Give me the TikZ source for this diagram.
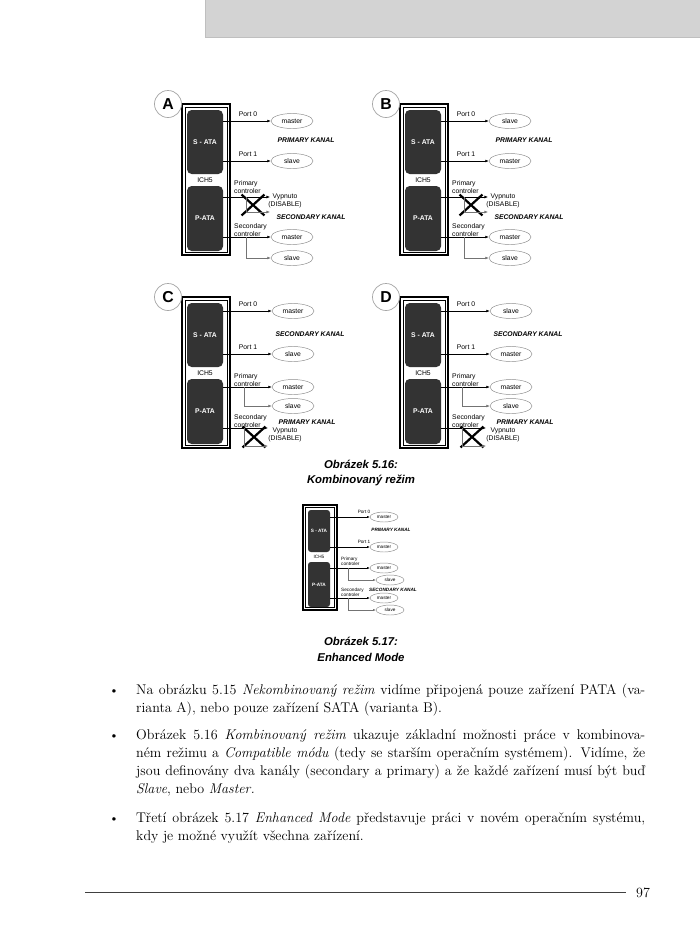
\documentclass[tikz,border=0pt]{standalone}
\usepackage{fontspec}
\setsansfont{Liberation Sans}
\usetikzlibrary{arrows.meta, positioning, shapes.geometric, shapes.misc}
\definecolor{chipgray}{HTML}{333333}
\definecolor{headgray}{HTML}{D3D3D3}

\begin{document}
\begin{tikzpicture}[
        x=0.03cm, y=-0.03cm,
        ich/.style={rectangle, draw, line width=1.4pt, minimum width=1.44cm,
                   minimum height=4.53cm, inner sep=0},
        chip/.style={rectangle, rounded corners=4pt, fill=chipgray, text=white,
                   minimum width=1.08cm, minimum height=1.92cm, inner sep=0,
                   font=\sffamily\bfseries\fontsize{5.8}{7}\selectfont},
        lbl/.style={inner sep=0, font=\sffamily\fontsize{5.8}{7}\selectfont},
        kanal/.style={inner sep=0, font=\sffamily\bfseries\itshape\fontsize{5.8}{7}\selectfont},
        dev/.style={ellipse, draw=black!45, fill=white, minimum width=1.26cm,
                   minimum height=0.45cm, inner sep=0,
                   font=\sffamily\fontsize{5.8}{7}\selectfont},
        cross/.style={cross out, draw, line width=1.9pt, minimum width=0.62cm,
                   minimum height=0.56cm, inner sep=0},
        tag/.style={circle, draw=black!35, fill=white, line width=0.6pt,
                   minimum size=0.81cm, inner sep=0,
                   font=\sffamily\bfseries\fontsize{13.5}{13.5}\selectfont},
        conn/.style={-{Latex[length=3pt, width=2.4pt]}, line width=0.45pt},
        branch/.style={conn, draw=black!55},
        schip/.style={chip, rounded corners=2.5pt, minimum width=0.66cm,
                   font=\sffamily\bfseries\fontsize{4}{5}\selectfont},
        slbl/.style={inner sep=0, font=\sffamily\fontsize{4}{4.8}\selectfont},
        skanal/.style={inner sep=0, font=\sffamily\bfseries\itshape\fontsize{4}{5}\selectfont},
        sdev/.style={dev, minimum width=0.84cm, minimum height=0.3cm,
                   font=\sffamily\fontsize{4}{5}\selectfont},
        sconn/.style={-{Latex[length=2.2pt, width=1.8pt]}, line width=0.35pt},
        sbranch/.style={sconn, draw=black!55},
        capt/.style={align=center, inner sep=0,
                   font=\sffamily\bfseries\itshape\fontsize{9.7}{13.6}\selectfont},
        body/.style={inner sep=0, anchor=base west, font=\fontsize{12}{15.3}\selectfont},
        dot/.style={inner sep=0, anchor=base, font=\fontsize{11}{15.3}\selectfont}
    ]
    \useasboundingbox (0,0) rectangle (700,943);
    \fill[white] (0,0) rectangle (700,943);

    % page head
    \fill[headgray] (205,0) rectangle (700,37);
    \draw[black!25, line width=0.8pt] (205,0) |- (700,37);

    % ICH5 frames of A-D
    \foreach \p/\bx/\by in {A/182/104, B/400/104, C/182/297, D/400/297} {
      \begin{scope}[shift={(\bx,\by)}]
        \node[ich] (\p-ich) at (24,75.5) {};
        \draw[line width=0.4pt] (3,3) rectangle (45,148);
        \node[chip] (\p-sata) at (23,38) {S - ATA};
        \node[chip, minimum height=1.95cm] (\p-pata) at (23,114.5) {P-ATA};
        \node[lbl] (\p-ich5) at (23,76) {ICH5};
        \node[tag] (\p-tag) at (-14,0) {\p};
      \end{scope}
    }

    % A, B: primary kanal on S-ATA
    \foreach \p/\bx/\by/\da/\db in {A/182/104/master/slave, B/400/104/slave/master} {
      \begin{scope}[shift={(\bx,\by)}]
        \node[dev] (\p-d1) at (110,17) {\da};
        \node[dev] (\p-d2) at (110,57) {\db};
        \node[lbl] (\p-port0) at (66,10) {Port 0};
        \node[lbl] (\p-port1) at (66,50) {Port 1};
        \node[kanal] (\p-k1) at (124,36) {PRIMARY KANAL};
        \node[lbl, align=left, anchor=west] (\p-pc) at (52,83) {Primary\\controler};
        \coordinate (\p-off1) at (88,93);
        \coordinate (\p-off2) at (88,108);
        \coordinate (\p-j1) at (64,93);
        \node[cross] (\p-x) at (71,101) {};
        \node[lbl, align=center] (\p-off) at (103,97) {Vypnuto\\(DISABLE)};
        \node[kanal] (\p-k2) at (129,113) {SECONDARY KANAL};
        \node[lbl, align=left, anchor=west] (\p-sc) at (52,126) {Secondary\\controler};
        \node[dev] (\p-d3) at (110,133) {master};
        \node[dev] (\p-d4) at (110,154) {slave};
        \coordinate (\p-j2) at (64,133);
      \end{scope}
      \draw[conn] (\p-sata.east |- \p-d1) -- (\p-d1);
      \draw[conn] (\p-sata.east |- \p-d2) -- (\p-d2);
      \draw[conn] (\p-pata.east |- \p-off1) -- (\p-off1);
      \draw[branch] (\p-j1) |- (\p-off2);
      \draw[conn] (\p-pata.east |- \p-d3) -- (\p-d3);
      \draw[branch] (\p-j2) |- (\p-d4);
    }

    % C, D: secondary kanal on S-ATA
    \foreach \p/\bx/\by/\da/\db in {C/182/297/master/slave, D/400/297/slave/master} {
      \begin{scope}[shift={(\bx,\by)}]
        \node[dev] (\p-d1) at (111,14) {\da};
        \node[dev] (\p-d2) at (111,57) {\db};
        \node[lbl] (\p-port0) at (66,7) {Port 0};
        \node[lbl] (\p-port1) at (66,50) {Port 1};
        \node[kanal] (\p-k1) at (128,37) {SECONDARY KANAL};
        \node[lbl, align=left, anchor=west] (\p-pc) at (52,83) {Primary\\controler};
        \node[dev] (\p-d3) at (111,90) {master};
        \node[dev] (\p-d4) at (111,109) {slave};
        \coordinate (\p-j1) at (62,90);
        \node[lbl, align=left, anchor=west] (\p-sc) at (52,124) {Secondary\\controler};
        \coordinate (\p-off1) at (86,131);
        \coordinate (\p-off2) at (86,149);
        \coordinate (\p-j2) at (62,131);
        \node[cross] (\p-x) at (72,140) {};
        \node[kanal] (\p-k2) at (125,125) {PRIMARY KANAL};
        \node[lbl, align=center] (\p-off) at (103,138) {Vypnuto\\(DISABLE)};
      \end{scope}
      \draw[conn] (\p-sata.east |- \p-d1) -- (\p-d1);
      \draw[conn] (\p-sata.east |- \p-d2) -- (\p-d2);
      \draw[conn] (\p-pata.east |- \p-d3) -- (\p-d3);
      \draw[branch] (\p-j1) |- (\p-d4);
      \draw[conn] (\p-pata.east |- \p-off1) -- (\p-off1);
      \draw[branch] (\p-j2) |- (\p-off2);
    }

    \node[capt] (cap16) at (361,473) {Obrázek 5.16:\\Kombinovaný režim};

    % enhanced mode
    \node[ich, line width=1.1pt, minimum width=1.02cm, minimum height=3.15cm] (E-ich) at (320,557.5) {};
    \draw[line width=0.3pt] (305.5,507.5) rectangle (334.5,607.5);
    \node[schip, minimum height=1.26cm] (E-sata) at (319,531) {S - ATA};
    \node[schip, minimum height=1.35cm] (E-pata) at (319,584.5) {P-ATA};
    \node[slbl] (E-ich5) at (319,557) {ICH5};
    \node[sdev] (E-d1) at (384,517) {master};
    \node[slbl] (E-port0) at (364,512) {Port 0};
    \node[skanal] (E-k1) at (391,530) {PRIMARY KANAL};
    \node[sdev] (E-d2) at (384,547) {master};
    \node[slbl] (E-port1) at (364,542) {Port 1};
    \node[slbl, align=left, anchor=west] (E-pc) at (341,561.5) {Primary\\controler};
    \node[sdev] (E-d3) at (384,568) {master};
    \node[sdev] (E-d4) at (390,580) {slave};
    \coordinate (E-j1) at (348,568);
    \node[slbl, align=left, anchor=west] (E-sc) at (341,592.5) {Secondary\\controler};
    \node[skanal] (E-k2) at (393,590) {SECONDARY KANAL};
    \node[sdev] (E-d5) at (384,598) {master};
    \node[sdev] (E-d6) at (390,610) {slave};
    \coordinate (E-j2) at (348,598);
    \draw[sconn] (E-sata.east |- E-d1) -- (E-d1);
    \draw[sconn] (E-sata.east |- E-d2) -- (E-d2);
    \draw[sconn] (E-pata.east |- E-d3) -- (E-d3);
    \draw[sbranch] (E-j1) |- (E-d4);
    \draw[sconn] (E-pata.east |- E-d5) -- (E-d5);
    \draw[sbranch] (E-j2) |- (E-d6);

    \node[capt] (cap17) at (361,649.5) {Obrázek 5.17:\\Enhanced Mode};

    % text
    \node[dot] (b1) at (114,694.5) {\textbullet};
    \node[body] (p1a) at (136,694.5) {\makebox[15.27cm][s]{Na obrázku 5.15 \textit{Nekombinovaný režim} vidíme připojená pouze zařízení PATA (va-}};
    \node[body] (p1b) at (136,712.5) {rianta A), nebo pouze zařízení SATA (varianta B).};
    \node[dot] (b2) at (114,739.5) {\textbullet};
    \node[body] (p2a) at (136,739.5) {\makebox[15.27cm][s]{Obrázek 5.16 \textit{Kombinovaný režim} ukazuje základní možnosti práce v kombinova-}};
    \node[body] (p2b) at (136,757.5) {\makebox[15.27cm][s]{ném režimu a \textit{Compatible módu} (tedy se starším operačním systémem). Vidíme, že}};
    \node[body] (p2c) at (136,775.5) {\makebox[15.27cm][s]{jsou definovány dva kanály (secondary a primary) a že každé zařízení musí být buď}};
    \node[body] (p2d) at (136,793.5) {\textit{Slave}, nebo \textit{Master.}};
    \node[dot] (b3) at (114,822.5) {\textbullet};
    \node[body] (p3a) at (136,822.5) {\makebox[15.27cm][s]{Třetí obrázek 5.17 \textit{Enhanced Mode} představuje práci v novém operačním systému,}};
    \node[body] (p3b) at (136,840.5) {kdy je možné využít všechna zařízení.};

    % foot
    \draw[black!75, line width=0.6pt] (85,892) -- (626,892);
    \node[body] (pg) at (636,897) {97};
\end{tikzpicture}
\end{document}
